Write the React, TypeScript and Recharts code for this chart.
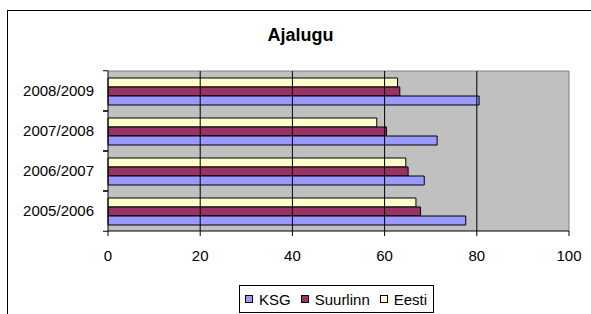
import React from "react";
import {
  BarChart,
  Bar,
  XAxis,
  YAxis,
  CartesianGrid,
  ReferenceLine,
  Legend,
} from "recharts";

// Ajalugu (history) results per school year: KSG vs Suurlinn vs Eesti average

const YEARS = ["2005/2006", "2006/2007", "2007/2008", "2008/2009"];
const KSG = [77.6, 68.6, 71.4, 80.5];
const SUURLINN = [67.8, 65.1, 60.4, 63.3];
const EESTI = [66.8, 64.6, 58.3, 62.8];
const X_TICKS = [0, 20, 40, 60, 80, 100];
const LEGEND_ORDER = ["KSG", "Suurlinn", "Eesti"];

const COLORS: Record<string, string> = {
  KSG: "#9999FF",
  Suurlinn: "#993366",
  Eesti: "#FFFFCC",
};

const W = 591;
const H = 314;
const PLOT_TOP = 71;
const PLOT_BOTTOM = 233;
const LEGEND_H = 28;
// recharts adds the measured legend height to the bottom offset
const MARGIN = { top: PLOT_TOP, right: 22, bottom: H - PLOT_BOTTOM - LEGEND_H, left: 0 };
const TICK_SIZE = 5;
const TICK_MARGIN = 9;
const FONT = "'Liberation Sans', Arial, sans-serif";

const data = YEARS.map((year, i) => ({
  year,
  KSG: KSG[i],
  Suurlinn: SUURLINN[i],
  Eesti: EESTI[i],
}));

// category ticks: label in the middle, tick marks on the band edges (Excel style)
const bandHalf = (PLOT_BOTTOM - PLOT_TOP) / YEARS.length / 2;

const YTick = (props: any) => {
  const { x, y, payload } = props;
  const axisX = x + TICK_SIZE + TICK_MARGIN;
  return (
    <g>
      <line x1={axisX - TICK_SIZE} x2={axisX} y1={y - bandHalf} y2={y - bandHalf} stroke="#000" />
      <line x1={axisX - TICK_SIZE} x2={axisX} y1={y + bandHalf} y2={y + bandHalf} stroke="#000" />
      <text x={x} y={y} dy="0.35em" textAnchor="end" fill="#000" fontSize={15} fontFamily={FONT}>
        {payload.value}
      </text>
    </g>
  );
};

const LegendBox = (props: any) => {
  const items = [...(props.payload ?? [])].sort(
    (a: any, b: any) => LEGEND_ORDER.indexOf(a.value) - LEGEND_ORDER.indexOf(b.value)
  );
  return (
    <div
      style={{
        boxSizing: "border-box",
        height: LEGEND_H,
        border: "1px solid #000",
        display: "flex",
        alignItems: "center",
        paddingLeft: 5,
        fontFamily: FONT,
        fontSize: 15,
        color: "#000",
        background: "#fff",
      }}
    >
      {items.map((it: any) => (
        <span key={it.value} style={{ display: "flex", alignItems: "center", marginRight: 10 }}>
          <span
            style={{
              boxSizing: "border-box",
              width: 8,
              height: 8,
              border: "1px solid #000",
              background: COLORS[it.value],
              marginRight: 6,
            }}
          />
          {it.value}
        </span>
      ))}
    </div>
  );
};

export default function App() {
  return (
    <div
      style={{
        position: "absolute",
        left: 0,
        top: 0,
        width: W,
        height: H,
        overflow: "hidden",
        background: "#fff",
      }}
    >
      <div
        style={{
          position: "absolute",
          left: 7,
          top: 10,
          width: 700,
          height: 400,
          border: "1px solid #000",
        }}
      />
      <div
        style={{
          position: "absolute",
          left: 200,
          width: 201,
          top: 26,
          textAlign: "center",
          fontFamily: FONT,
          fontWeight: "bold",
          fontSize: 18,
          lineHeight: "18px",
        }}
      >
        Ajalugu
      </div>
      <div style={{ position: "absolute", left: 0, top: 0 }}>
        <BarChart
          width={W}
          height={H}
          data={data}
          layout="vertical"
          margin={MARGIN}
          barSize={9}
          barGap={0}
        >
          <CartesianGrid
            fill="#C0C0C0"
            stroke="#808080"
            horizontalCoordinatesGenerator={({ offset }: any) => [offset.top]}
            verticalCoordinatesGenerator={({ offset }: any) => [offset.left + offset.width]}
          />
          {X_TICKS.slice(1, -1).map((t) => (
            <ReferenceLine key={t} x={t} stroke="#000" strokeWidth={1} ifOverflow="hidden" />
          ))}
          <XAxis
            type="number"
            domain={[0, 100]}
            ticks={X_TICKS}
            interval={0}
            axisLine={{ stroke: "#000" }}
            tickLine={{ stroke: "#000" }}
            tickSize={5}
            tickMargin={14}
            tick={{ fill: "#000", fontSize: 15, fontFamily: FONT }}
          />
          <YAxis
            type="category"
            dataKey="year"
            reversed
            width={108}
            axisLine={{ stroke: "#000" }}
            tickLine={false}
            tickSize={TICK_SIZE}
            tickMargin={TICK_MARGIN}
            tick={<YTick />}
            interval={0}
          />
          <Legend
            layout="horizontal"
            verticalAlign="middle"
            align="center"
            content={<LegendBox />}
            wrapperStyle={{ position: "absolute", left: 239, top: 285, width: 195, height: LEGEND_H }}
          />
          <Bar dataKey="Eesti" name="Eesti" fill={COLORS.Eesti} stroke="#000" isAnimationActive={false} />
          <Bar dataKey="Suurlinn" name="Suurlinn" fill={COLORS.Suurlinn} stroke="#000" isAnimationActive={false} />
          <Bar dataKey="KSG" name="KSG" fill={COLORS.KSG} stroke="#000" isAnimationActive={false} />
        </BarChart>
      </div>
    </div>
  );
}
